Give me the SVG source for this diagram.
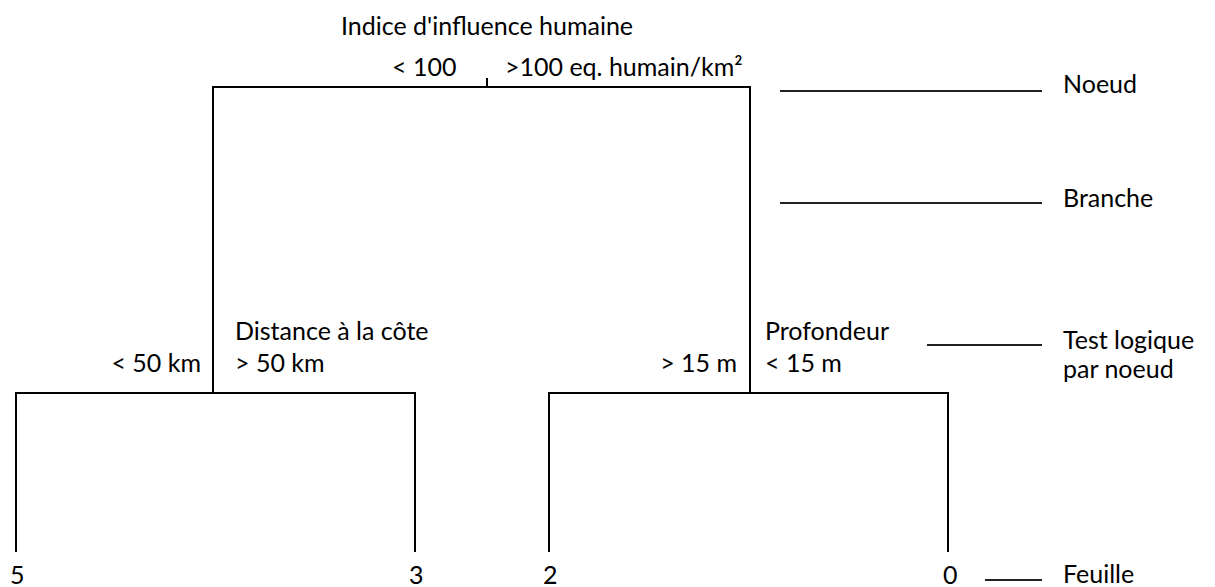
<svg xmlns="http://www.w3.org/2000/svg" width="1215" height="587" viewBox="0 0 1215 587">
<style>
.l{stroke:#000;stroke-width:2;fill:none}
.k{stroke:#222;stroke-width:2;fill:none}
text{font-family:Lato,"Open Sans","Liberation Sans",sans-serif;font-size:25px;fill:#000}
.e{text-anchor:end}
.m{text-anchor:middle}
</style>
<rect width="1215" height="587" fill="#fff"/>
<g id="connectors">
<line class="l" x1="487" y1="78" x2="487" y2="87"/>
<polyline class="l" points="213,393 213,87 750,87 750,393"/>
<polyline class="l" points="16,552 16,393 415,393 415,552"/>
<polyline class="l" points="549,552 549,393 948,393 948,552"/>
<line class="k" x1="780" y1="91" x2="1042" y2="91"/>
<line class="k" x1="780" y1="203" x2="1042" y2="203"/>
<line class="k" x1="927" y1="345" x2="1042" y2="345"/>
<line class="k" x1="985" y1="580" x2="1042" y2="580"/>
</g>
<g id="root">
<text class="m" x="487" y="35">Indice d'influence humaine</text>
<text x="392" y="76">&lt; 100</text>
<text x="505" y="76">&gt;100 eq. humain/km²</text>
</g>
<g id="node-distance">
<text x="235" y="340">Distance à la côte</text>
<text x="235" y="372">&gt; 50 km</text>
<text class="e" x="201" y="372">&lt; 50 km</text>
</g>
<g id="node-profondeur">
<text x="765" y="340">Profondeur</text>
<text x="765" y="372">&lt; 15 m</text>
<text class="e" x="737" y="372">&gt; 15 m</text>
</g>
<g id="leaves">
<text x="10" y="584">5</text>
<text x="409" y="584">3</text>
<text x="543" y="584">2</text>
<text x="943" y="584">0</text>
</g>
<g id="legend">
<text x="1063" y="93">Noeud</text>
<text x="1063" y="207">Branche</text>
<text x="1063" y="349">Test logique</text>
<text x="1063" y="378">par noeud</text>
<text x="1063" y="583">Feuille</text>
</g>
</svg>
